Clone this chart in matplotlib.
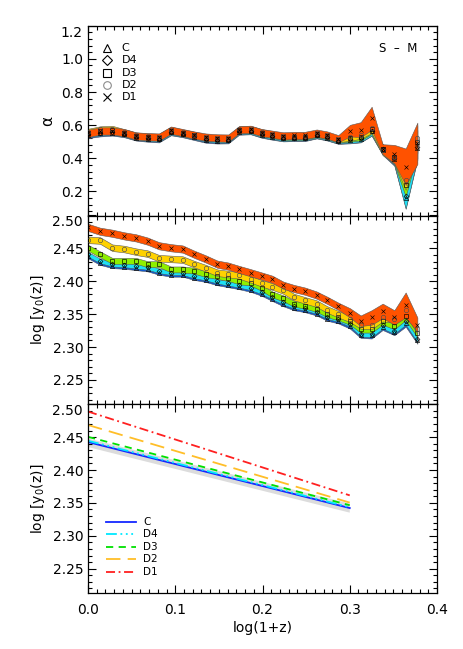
import matplotlib
matplotlib.use('Agg')
import matplotlib.pyplot as plt
from matplotlib.ticker import MultipleLocator, FuncFormatter

# ---------------- data ----------------
x = [0.000, 0.0138, 0.0279, 0.0416, 0.0550, 0.0684, 0.0814, 0.0951, 0.1085, 0.1219,
     0.1349, 0.1482, 0.1608, 0.1731, 0.1864, 0.1990, 0.2113, 0.2239, 0.2361, 0.2487,
     0.2621, 0.2743, 0.2869, 0.3003, 0.3125, 0.3251, 0.3377, 0.3511, 0.3641, 0.3775]

labels = ['C', 'D4', 'D3', 'D2', 'D1']

# alpha (top panel)
alpha_C  = [.540, .550, .555, .545, .525, .518, .514, .557, .545, .528, .512, .507, .508, .560, .563,
            .542, .530, .520, .522, .522, .538, .525, .505, .512, .518, .565, .450, .395, .160, .460]
alpha_D4 = [.545, .555, .560, .548, .528, .522, .518, .560, .548, .532, .518, .512, .512, .563, .565,
            .545, .533, .522, .525, .525, .540, .527, .507, .515, .520, .565, .455, .400, .175, .470]
alpha_D3 = [.550, .565, .568, .553, .533, .528, .525, .567, .552, .538, .524, .519, .518, .570, .573,
            .553, .540, .528, .530, .530, .545, .533, .512, .522, .530, .575, .455, .405, .240, .500]
alpha_D2 = [.560, .575, .578, .558, .538, .532, .530, .572, .556, .542, .527, .522, .521, .575, .578,
            .558, .545, .533, .535, .535, .550, .538, .515, .528, .540, .580, .450, .410, .270, .520]
alpha_D1 = [.550, .565, .565, .555, .535, .530, .528, .570, .555, .540, .528, .523, .522, .572, .575,
            .555, .545, .535, .538, .538, .552, .540, .518, .567, .573, .641, .455, .425, .349, .490]

alpha_err_C  = [.018] * 23 + [.022, .022, .028, .030, .040, .060, .070]
alpha_err_D4 = [.018] * 23 + [.022, .022, .028, .030, .040, .080, .070]
alpha_err_D3 = [.018] * 23 + [.022, .022, .028, .030, .040, .070, .070]
alpha_err_D2 = [.018] * 23 + [.022, .022, .028, .030, .040, .060, .080]
alpha_err_D1 = [.022] * 23 + [.035, .045, .070, .030, .056, .110, .125]

# log y0(z) (middle panel)
ly_C  = [2.438, 2.428, 2.423, 2.422, 2.420, 2.418, 2.413, 2.410, 2.410, 2.405, 2.402, 2.397, 2.394,
         2.391, 2.387, 2.381, 2.373, 2.365, 2.359, 2.356, 2.351, 2.343, 2.339, 2.332, 2.318, 2.318,
         2.331, 2.323, 2.337, 2.310]
ly_D4 = [2.441, 2.431, 2.426, 2.425, 2.423, 2.421, 2.416, 2.413, 2.413, 2.408, 2.405, 2.400, 2.397,
         2.394, 2.390, 2.384, 2.376, 2.368, 2.362, 2.359, 2.354, 2.346, 2.342, 2.335, 2.320, 2.320,
         2.333, 2.325, 2.340, 2.312]
ly_D3 = [2.451, 2.441, 2.431, 2.431, 2.431, 2.426, 2.426, 2.418, 2.418, 2.416, 2.411, 2.408, 2.405,
         2.400, 2.398, 2.390, 2.380, 2.374, 2.366, 2.363, 2.358, 2.350, 2.345, 2.339, 2.327, 2.327,
         2.339, 2.332, 2.347, 2.321]
ly_D2 = [2.463, 2.462, 2.451, 2.449, 2.445, 2.442, 2.435, 2.434, 2.433, 2.426, 2.420, 2.413, 2.411,
         2.409, 2.403, 2.397, 2.392, 2.386, 2.376, 2.371, 2.366, 2.357, 2.350, 2.343, 2.333, 2.333,
         2.345, 2.343, 2.356, 2.327]
ly_D1 = [2.482, 2.476, 2.473, 2.469, 2.466, 2.461, 2.454, 2.451, 2.449, 2.441, 2.434, 2.426, 2.423,
         2.418, 2.413, 2.408, 2.403, 2.394, 2.389, 2.385, 2.379, 2.371, 2.362, 2.352, 2.340, 2.345,
         2.355, 2.345, 2.364, 2.334]

ly_err_C  = [.003] * 23 + [.004, .004, .005, .005, .005, .006, .005]
ly_err_D4 = [.0035] * 23 + [.004, .004, .005, .005, .005, .006, .005]
ly_err_D3 = [.0045] * 23 + [.005, .005, .005, .005, .005, .006, .006]
ly_err_D2 = [.005] * 23 + [.005, .005, .006, .006, .006, .007, .007]
ly_err_D1 = [.0055] * 23 + [.007, .008, .011, .011, .011, .019, .011]

# fitted relations (bottom panel): values at log(1+z) = 0 and 0.3
x_fit = [0.0, 0.3]
fit_C  = [2.4426, 2.3422]
fit_D4 = [2.4445, 2.3435]
fit_D3 = [2.4505, 2.3465]
fit_D2 = [2.4685, 2.3505]
fit_D1 = [2.4890, 2.3615]
fit_C_lo = [2.4350, 2.3352]
fit_C_hi = [2.4480, 2.3490]

# ---------------- styles ----------------
band_colors = ['#0b5ad8', '#1ee0f5', '#8ef000', '#ffd200', '#ff5200']
markers = ['^', 'D', 's', 'o', 'x']
marker_sizes = [3.0, 2.5, 3.0, 3.2, 3.3]
marker_cols = ['k', 'k', 'k', '0.3', 'k']
line_colors = ['#1428ff', '#00e8ff', '#00e000', '#ffbe28', '#ff2020']
line_styles = ['-', (0, (6, 2, 1, 2, 1, 2, 1, 2)), (0, (4, 3)), (0, (8, 4)), (0, (5, 2, 1, 2))]

plt.rcParams['font.family'] = ['DejaVu Sans']
plt.rcParams['font.size'] = 10

fig = plt.figure(figsize=(4.63, 6.49), dpi=100)
W = 463.0
H = 649.0
left = 88 / W
width = (437 - 88) / W
ax1 = fig.add_axes([left, 1 - 215.5 / H, width, (215.5 - 25.7) / H])
ax2 = fig.add_axes([left, 1 - 404.3 / H, width, (404.3 - 215.5) / H])
ax3 = fig.add_axes([left, 1 - 593.0 / H, width, (593.0 - 404.3) / H])


def style_axis(ax, ylim, ymaj, ymin, fmt, top_label):
    ax.set_xlim(0.0, 0.4)
    ax.set_ylim(*ylim)
    ax.xaxis.set_major_locator(MultipleLocator(0.1))
    ax.xaxis.set_minor_locator(MultipleLocator(0.01))
    ax.yaxis.set_major_locator(MultipleLocator(ymaj))
    ax.yaxis.set_minor_locator(MultipleLocator(ymin))
    top = ylim[1]
    ax.yaxis.set_major_formatter(FuncFormatter(
        lambda v, p: '' if abs(v - top) < 1e-9 else fmt % v))
    ax.text(-0.016, top, top_label, transform=ax.get_yaxis_transform(),
            ha='right', va='top', fontsize=10)
    ax.tick_params(which='both', direction='in', top=True, right=True,
                   width=0.8, color='k')
    ax.tick_params(which='major', length=5.5, pad=3.5)
    ax.tick_params(which='minor', length=2.8)
    ax.tick_params(axis='x', which='major', pad=7)
    for s in ax.spines.values():
        s.set_linewidth(0.9)


def draw_bands(ax, series, errs):
    for v, e, c in zip(series, errs, band_colors):
        lo = [a - b for a, b in zip(v, e)]
        hi = [a + b for a, b in zip(v, e)]
        ax.fill_between(x, lo, hi, facecolor=c, edgecolor='0.35', linewidth=0.4, zorder=2)
    for v, m, ms, mc in zip(series, markers, marker_sizes, marker_cols):
        ax.plot(x, v, linestyle='none', marker=m, ms=ms, mfc='none', mec=mc, mew=0.45,
                zorder=3)


# ---------------- panel 1: alpha ----------------
draw_bands(ax1, [alpha_C, alpha_D4, alpha_D3, alpha_D2, alpha_D1],
           [alpha_err_C, alpha_err_D4, alpha_err_D3, alpha_err_D2, alpha_err_D1])
style_axis(ax1, (0.055, 1.2), 0.2, 0.04, '%.1f', '1.2')
ax1.set_xticklabels([])
ax1.set_ylabel('α', fontsize=11)

# legend (marker keys)
leg_y1 = [0.884, 0.819, 0.752, 0.688, 0.623]
for lab, m, yy in zip(labels, markers, leg_y1):
    ax1.plot([0.0536], [yy], transform=ax1.transAxes, marker=m, ms=5.5 if m != 'D' else 4.6,
             mfc='none', mec='0.55' if lab == 'D2' else 'k', mew=0.8, linestyle='none')
    ax1.text(0.0966, yy, lab, transform=ax1.transAxes, ha='left', va='center', fontsize=8)
ax1.text(0.943, 0.8825, 'S  –  M', transform=ax1.transAxes, ha='right', va='center', fontsize=8.5)

# ---------------- panel 2: log y0 ----------------
draw_bands(ax2, [ly_C, ly_D4, ly_D3, ly_D2, ly_D1],
           [ly_err_C, ly_err_D4, ly_err_D3, ly_err_D2, ly_err_D1])
style_axis(ax2, (2.213, 2.50), 0.05, 0.01, '%.2f', '2.50')
ax2.set_xticklabels([])
ax2.set_ylabel(r'log [y$_0$(z)]', fontsize=10)

# ---------------- panel 3: fits ----------------
ax3.fill_between(x_fit, fit_C_lo, fit_C_hi, facecolor='#dcdcdc', edgecolor='none', zorder=1)
fits = [fit_C, fit_D4, fit_D3, fit_D2, fit_D1]
for v, c, ls in zip(fits, line_colors, line_styles):
    ax3.plot(x_fit, v, color=c, linestyle=ls, linewidth=1.3, zorder=2)
style_axis(ax3, (2.213, 2.50), 0.05, 0.01, '%.2f', '2.50')
ax3.xaxis.set_major_formatter(FuncFormatter(lambda v, p: '%.1f' % v))
ax3.set_ylabel(r'log [y$_0$(z)]', fontsize=10)
ax3.set_xlabel('log(1+z)', fontsize=10, labelpad=3)

leg_y3 = [0.3747, 0.3111, 0.242, 0.178, 0.1123]
for lab, c, ls, yy in zip(labels, line_colors, line_styles, leg_y3):
    ax3.plot([0.0516, 0.1375], [yy, yy], transform=ax3.transAxes, color=c, linestyle=ls,
             linewidth=1.3)
    ax3.text(0.1585, yy, lab, transform=ax3.transAxes, ha='left', va='center', fontsize=7.5)

fig.savefig('out.png', dpi=100)
